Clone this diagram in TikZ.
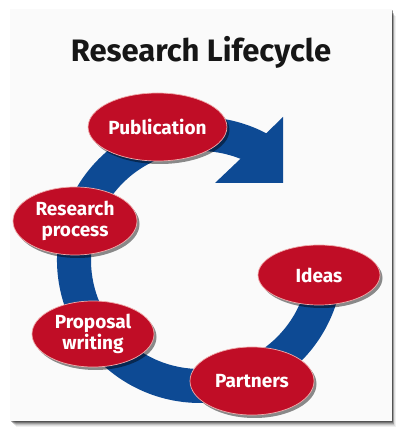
\documentclass[tikz,border=0pt]{standalone}
\usepackage{fontspec}
\setmainfont{Fira Sans}
\usetikzlibrary{shadows,shapes.geometric,calc}
\definecolor{ringblue}{RGB}{13,74,148}
\definecolor{cred}{RGB}{192,13,38}
\definecolor{crim}{RGB}{240,170,170}
\definecolor{panelbg}{RGB}{250,250,250}
\definecolor{titlec}{RGB}{22,22,22}
\tikzset{
  stage/.style={ellipse, fill=cred, draw=crim, line width=0.7pt,
    minimum width=#1, text=white, font=\bfseries\fontsize{19}{21}\selectfont,
    align=center, inner sep=0pt,
    drop shadow={shadow xshift=2.5pt, shadow yshift=-3pt, opacity=0.45, fill=black}},
  stage/.default=122pt
}
\begin{document}
\begin{tikzpicture}[x=1pt,y=1pt]
\useasboundingbox (0,0) rectangle (403,432);
\fill[white] (0,0) rectangle (403,432);
% panel shadow
\foreach \d/\o in {6/0.06,5/0.08,4/0.12,3/0.18,2/0.25,1/0.3}{
  \fill[black,opacity=\o] (10+\d,11-\d) rectangle (392+\d*0.6,423-\d*1.2);
}
\fill[panelbg] (10,11) rectangle (392,423);
% title
\node[text=titlec, font=\bfseries\fontsize{31}{33}\selectfont] (title) at (201,380) {Research Lifecycle};
% ring arrow
\coordinate (C) at (200,172);
\fill[ringblue] ($(C)+(62.4:143)$) arc[start angle=62.4, end angle=355, radius=143]
  -- ($(C)+(355:109)$) arc[start angle=355, end angle=68.2, radius=109]
  -- (215,249) -- (283,249) -- (283,315) -- cycle;
% stages
\node[stage, minimum height=68pt] (pub) at (157.5,305) {Publication};
\node[stage=124pt, minimum height=68pt] (res) at (75,211) {Research\\process};
\node[stage, minimum height=66pt] (prop) at (93,98) {Proposal\\writing};
\node[stage=124pt, minimum height=68pt] (part) at (252,51) {Partners};
\node[stage, minimum height=60pt] (ideas) at (319,157) {Ideas};
\end{tikzpicture}
\end{document}
